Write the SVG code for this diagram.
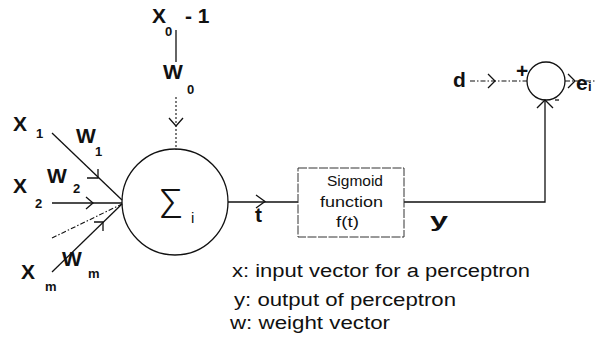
<svg xmlns="http://www.w3.org/2000/svg" width="595" height="358" viewBox="0 0 595 358">
<style>
  .ln{stroke:#111;stroke-width:1.3;fill:none}
  .dash{stroke:#111;stroke-width:1.1;fill:none;stroke-dasharray:5 3}
  .dot{stroke:#111;stroke-width:1.1;fill:none;stroke-dasharray:2 2}
  .dd{stroke:#111;stroke-width:1.1;fill:none;stroke-dasharray:5 2 1.5 2}
  .big{font-family:"Liberation Sans",Arial,sans-serif;font-weight:bold;font-size:21px;fill:#111}
  .sub{font-family:"Liberation Sans",Arial,sans-serif;font-weight:bold;font-size:13px;fill:#111}
  .txt{font-family:"Liberation Sans",Arial,sans-serif;font-size:18px;fill:#111}
  .box{font-family:"Liberation Sans",Arial,sans-serif;font-size:14px;fill:#111}
</style>
<rect width="595" height="358" fill="#fff"/>

<g id="connectors">
  <!-- bias input -->
  <line class="ln" x1="176" y1="30" x2="176" y2="62"/>
  <line class="dot" x1="176" y1="97" x2="176" y2="150"/>
  <polyline class="ln" points="169,118 176,126 183,118"/>
  <!-- x1 -->
  <line class="ln" x1="52" y1="133" x2="122" y2="200"/>
  <polyline class="ln" points="98,169 98,178 87,178"/>
  <!-- x2 -->
  <line class="ln" x1="52" y1="203" x2="122" y2="203"/>
  <polyline class="ln" points="86,197 93,203 86,209"/>
  <!-- dashed intermediate -->
  <line class="dd" x1="52" y1="238" x2="122" y2="204"/>
  <!-- xm -->
  <line class="ln" x1="52" y1="272" x2="122" y2="204"/>
  <polyline class="ln" points="94,222 103,222 103,231"/>
  <!-- t -->
  <line class="ln" x1="228" y1="202" x2="298" y2="202"/>
  <polyline class="ln" points="256,195 265,201.5 256,208"/>
  <!-- y -->
  <polyline class="ln" points="404,202 545,202 545,100"/>
  <polyline class="ln" points="537,108 545,100 553,108"/>
  <!-- d -->
  <line class="dd" x1="470" y1="81" x2="527" y2="81"/>
  <polyline class="ln" points="488,74 495,81 488,88"/>
  <!-- e -->
  <line class="dd" x1="565" y1="81" x2="595" y2="81"/>
  <polyline class="ln" points="568,74 575,81 568,88"/>
</g>

<g id="x0">
  <text class="big" x="152" y="23">X</text>
  <text class="sub" x="165" y="36">0</text>
  <text class="big" x="185" y="23">- 1</text>
</g>
<g id="w0">
  <text class="big" x="163" y="79">W</text>
  <text class="sub" x="187" y="94">0</text>
</g>
<g id="x1">
  <text class="big" x="13" y="131">X</text>
  <text class="sub" x="36" y="138">1</text>
  <text class="big" x="76" y="143">W</text>
  <text class="sub" x="95" y="156">1</text>
</g>
<g id="x2">
  <text class="big" x="13" y="193">X</text>
  <text class="sub" x="35" y="208">2</text>
  <text class="big" x="47" y="183">W</text>
  <text class="sub" x="73" y="193">2</text>
</g>
<g id="xm">
  <text class="big" x="21" y="279">X</text>
  <text class="sub" x="45" y="291">m</text>
  <text class="big" x="62" y="266">W</text>
  <text class="sub" x="88" y="278">m</text>
</g>

<g id="sum">
  <circle class="ln" cx="175" cy="202" r="53"/>
  <text x="160" y="218" font-family="Roboto,'Liberation Sans',sans-serif" font-weight="300" font-size="40" fill="#111">Σ</text>
  <text x="191" y="223" font-family="'Liberation Sans',sans-serif" font-size="15" fill="#111">i</text>
</g>
<text id="t-label" class="big" x="255" y="222" font-size="22">t</text>

<g id="sigmoid">
  <rect x="298" y="168" width="106" height="69" fill="none" stroke="#333" stroke-width="1" stroke-dasharray="9 1.5"/>
  <text class="box" x="327" y="186" textLength="56" lengthAdjust="spacingAndGlyphs">Sigmoid</text>
  <text class="box" x="320" y="207" textLength="63" lengthAdjust="spacingAndGlyphs">function</text>
  <text class="box" x="336" y="227" textLength="23" lengthAdjust="spacingAndGlyphs">f(t)</text>
</g>
<text id="y-label" class="big" x="430" y="227" font-size="25" textLength="18" lengthAdjust="spacingAndGlyphs">y</text>

<g id="comparator">
  <circle class="ln" cx="546" cy="81" r="19"/>
  <text class="big" x="516" y="78" font-size="14">+</text>
  <line class="ln" x1="555" y1="100" x2="559" y2="100" stroke-width="1.6"/>
</g>
<text id="d-label" class="big" x="453" y="87" font-size="18">d</text>
<g id="e-label">
  <text class="big" x="576" y="90" font-size="17">e</text>
  <text class="sub" x="588" y="91" font-size="14">i</text>
</g>

<g id="legend">
  <text class="txt" x="232" y="277" textLength="298" lengthAdjust="spacingAndGlyphs">x: input vector for a perceptron</text>
  <text class="txt" x="234" y="306" textLength="222" lengthAdjust="spacingAndGlyphs">y: output of perceptron</text>
  <text class="txt" x="230" y="329" textLength="160" lengthAdjust="spacingAndGlyphs">w: weight vector</text>
</g>
</svg>
